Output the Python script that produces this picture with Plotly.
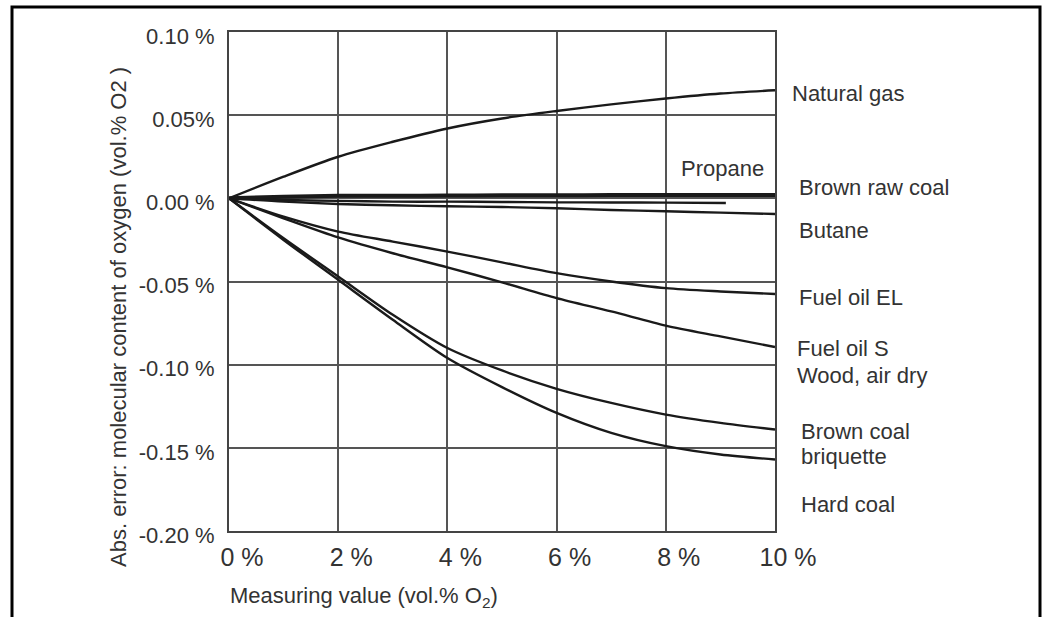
import plotly.graph_objects as go

# ---------------- data ----------------
x_full = [0, 1, 2, 3, 4, 5, 6, 7, 8, 9, 10]
x_propane = [0, 1, 2, 3, 4, 5, 6, 7, 8, 9.1]

natural_gas = [0, 0.013, 0.025, 0.034, 0.042, 0.048, 0.0525, 0.0565, 0.060, 0.063, 0.065]
brown_raw_coal = [0, 0.001, 0.0015, 0.0015, 0.0017, 0.0018, 0.0018, 0.002, 0.002, 0.002, 0.002]
propane = [0, -0.001, -0.0015, -0.002, -0.002, -0.0022, -0.0024, -0.0025, -0.0026, -0.0028]
butane = [0, -0.002, -0.0034, -0.0042, -0.0048, -0.0052, -0.006, -0.007, -0.0078, -0.0086, -0.0094]
fuel_oil_el = [0, -0.011, -0.020, -0.026, -0.032, -0.0385, -0.045, -0.050, -0.054, -0.056, -0.0575]
fuel_oil_s = [0, -0.012, -0.0235, -0.033, -0.0415, -0.0505, -0.060, -0.068, -0.0765, -0.083, -0.0894]
brown_coal_briquette = [0, -0.024, -0.047, -0.070, -0.090, -0.1035, -0.1145, -0.123, -0.130, -0.135, -0.139]
hard_coal = [0, -0.025, -0.049, -0.073, -0.096, -0.1135, -0.129, -0.141, -0.149, -0.154, -0.157]

x_tick_vals = [0, 2, 4, 6, 8, 10]
x_tick_text = ["0 %", "2 %", "4 %", "6 %", "8 %", "10 %"]
y_tick_vals = [0.10, 0.05, 0.00, -0.05, -0.10, -0.15, -0.20]
y_tick_text = ["0.10 %", "0.05%", "0.00 %", "-0.05 %", "-0.10 %", "-0.15 %", "-0.20 %"]

label_texts = ["Natural gas", "Propane", "Brown raw coal", "Butane", "Fuel oil EL",
               "Fuel oil S", "Wood, air dry", "Brown coal", "briquette", "Hard coal"]

x_title = "Measuring value (vol.% O<sub>2</sub>)"
y_title = "Abs. error: molecular content of oxygen (vol.% O2 )"

# ---------------- figure ----------------
W, H = 1047, 617
ML, MR, MT, MB = 229, 272, 32, 86
PW, PH = W - ML - MR, H - MT - MB


def px_x(px):
    return (px - ML) / PW


def px_y(py):
    return (H - MB - py) / PH


FONT = "Liberation Sans, Arial, sans-serif"
INK = "#1a1a1a"
TXT = "#333"

fig = go.Figure()
series = [
    (x_full, natural_gas, "Natural gas", 2.4),
    (x_full, brown_raw_coal, "Brown raw coal", 4.0),
    (x_propane, propane, "Propane", 2.4),
    (x_full, butane, "Butane", 2.4),
    (x_full, fuel_oil_el, "Fuel oil EL", 2.4),
    (x_full, fuel_oil_s, "Fuel oil S / Wood, air dry", 2.4),
    (x_full, brown_coal_briquette, "Brown coal briquette", 2.4),
    (x_full, hard_coal, "Hard coal", 2.4),
]
for xs, ys, name, w in series:
    fig.add_trace(go.Scatter(x=xs, y=ys, mode="lines", name=name,
                             line=dict(color=INK, width=w, shape="spline", smoothing=0.8),
                             showlegend=False, hoverinfo="x+y+name"))

# curve labels at the right (pixel positions)
label_pos = [
    (790, 93, "left"), (766, 168, "right"), (797, 187, "left"), (797, 231, "left"),
    (797, 297, "left"), (795, 348, "left"), (795, 375, "left"), (799, 431, "left"),
    (799, 456, "left"), (799, 504, "left"),
]
annotations = []
for text, (px, py, anc) in zip(label_texts, label_pos):
    annotations.append(dict(text=text, x=px_x(px), y=px_y(py), xref="paper", yref="paper",
                            xanchor=anc, yanchor="middle", showarrow=False,
                            font=dict(family=FONT, size=22, color=TXT)))

annotations.append(dict(text=x_title, x=px_x(228), y=px_y(597), xref="paper", yref="paper",
                        xanchor="left", yanchor="middle", showarrow=False,
                        font=dict(family=FONT, size=22, color=TXT)))
annotations.append(dict(text=y_title, x=px_x(118), y=px_y(317), xref="paper", yref="paper",
                        xanchor="center", yanchor="middle", showarrow=False, textangle=-90,
                        font=dict(family=FONT, size=22, color=TXT)))

# outer frame of the scanned figure (open at the bottom)
frame = dict(type="rect", xref="paper", yref="paper",
             x0=px_x(12), x1=px_x(1040), y0=px_y(640), y1=px_y(7),
             line=dict(color="black", width=3), fillcolor="rgba(0,0,0,0)", layer="above")

fig.update_layout(
    width=W, height=H,
    margin=dict(l=ML, r=MR, t=MT, b=MB, pad=0),
    paper_bgcolor="white", plot_bgcolor="white",
    font=dict(family=FONT, color=TXT),
    annotations=annotations,
    shapes=[frame],
    xaxis=dict(range=[0, 10], tickvals=x_tick_vals, ticktext=x_tick_text,
               showgrid=True, gridcolor="#555", gridwidth=1.6, zeroline=False,
               showline=True, linecolor="#444", linewidth=2, mirror=True,
               ticks="", tickfont=dict(family=FONT, size=25, color=TXT),
               ticklabelstandoff=3, ticklabelshift=13, fixedrange=True),
    yaxis=dict(range=[-0.2, 0.1], tickvals=y_tick_vals, ticktext=y_tick_text,
               showgrid=True, gridcolor="#555", gridwidth=1.6, zeroline=False,
               showline=True, linecolor="#444", linewidth=2, mirror=True,
               ticks="", tickfont=dict(family=FONT, size=22, color=TXT),
               ticklabelstandoff=8, ticklabelshift=4, fixedrange=True),
)

fig.write_html("out.html", config={"displayModeBar": False},
               post_script="document.body.style.margin='0';")
